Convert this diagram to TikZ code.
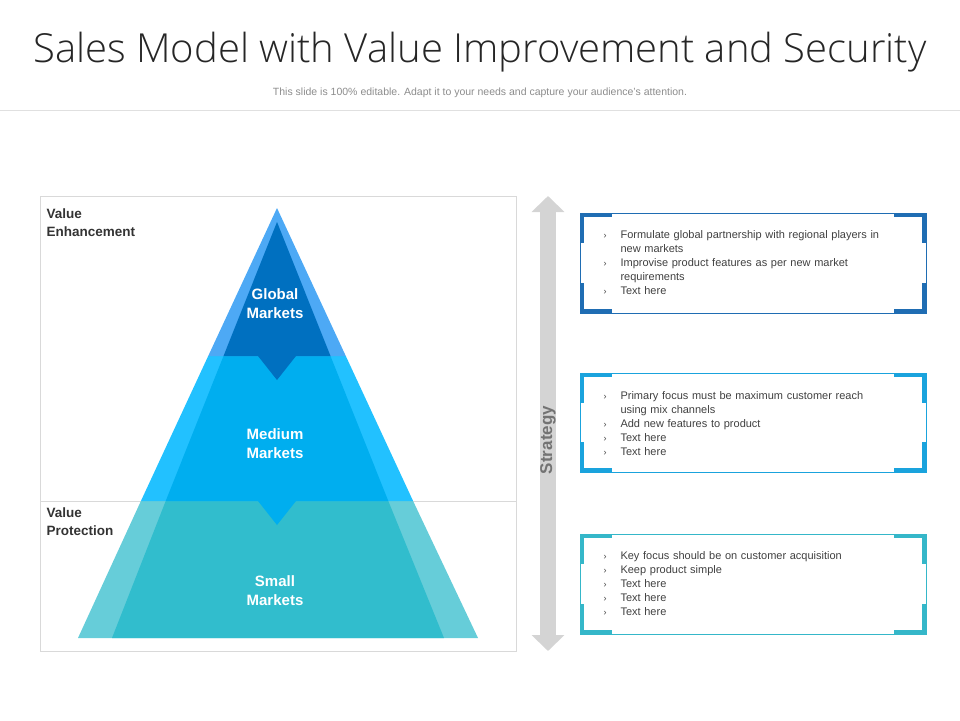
\documentclass[tikz,border=0pt]{standalone}
\usepackage{fontspec}
\setmainfont{Liberation Sans}
\newfontfamily\titlefont{Open Sans Light}
\usetikzlibrary{arrows.meta}
\definecolor{topIn}{HTML}{0070C0}
\definecolor{topOut}{HTML}{4DA9F5}
\definecolor{midIn}{HTML}{00AEEF}
\definecolor{midOut}{HTML}{22C1FF}
\definecolor{lowIn}{HTML}{31BDCD}
\definecolor{lowOut}{HTML}{66CDD9}
\definecolor{boxA}{HTML}{1F6DB3}
\definecolor{boxB}{HTML}{1AA3DD}
\definecolor{boxC}{HTML}{35B7C9}
\newcommand{\bul}{\makebox[17pt][l]{\small ›}}
\begin{document}
\begin{tikzpicture}[x=1pt, y=-1pt,
  pts/.style={anchor=west, align=left, text width=300pt, font=\fontsize{11}{14}\selectfont, text=black!75},
  mkt/.style={text=white, font=\bfseries\fontsize{15}{19}\selectfont, align=center},
  side/.style={anchor=north west, align=left, font=\bfseries\fontsize{13.5}{18}\selectfont, text=black!80}]
  \useasboundingbox (0,0) rectangle (960,720);
  % title
  \node (title) at (480,52) {\titlefont\fontsize{40}{44}\selectfont\color{black!85}Sales Model with Value Improvement and Security};
  \node (sub) at (480,93) {\fontsize{10.5}{12}\selectfont\color{black!45}This slide is 100\% editable. Adapt it to your needs and capture your audience's attention.};
  \draw [black!12] (0,110) -- (960,110);
  % frame
  \draw [black!15] (40,196) rectangle (516,651);
  \draw [black!15] (40,501) -- (516,501);
  \node (enh) [side] at (43,205) {Value\\Enhancement};
  \node (prot) [side] at (43,504) {Value\\Protection};
  % pyramid
  \fill [lowOut] (78,638) -- (140.9,501) -- (413.1,501) -- (478,638) -- cycle;
  \fill [lowIn] (112,638) -- (165.7,501) -- (388.3,501) -- (444,638) -- cycle;
  \fill [midOut] (140.9,501) -- (208.2,356) -- (345.8,356) -- (413.1,501) -- cycle;
  \fill [midIn] (165.7,501) -- (223.5,356) -- (330.5,356) -- (388.3,501) -- cycle;
  \fill [midIn] (258,501) -- (277,525) -- (296,501) -- cycle;
  \fill [topOut] (208.2,356) -- (277,208) -- (345.8,356) -- cycle;
  \fill [topIn] (223.5,356) -- (277,222) -- (330.5,356) -- cycle;
  \fill [topIn] (258,356) -- (277,380) -- (296,356) -- cycle;
  \node (glob) [mkt] at (275,304) {Global\\Markets};
  \node (med) [mkt] at (275,444) {Medium\\Markets};
  \node (small) [mkt] at (275,591) {Small\\Markets};
  % strategy arrow
  \coordinate (up) at (548,196);
  \coordinate (dn) at (548,651);
  \draw [black!17, line width=16pt, {Triangle[width=32pt,length=16pt]}-{Triangle[width=32pt,length=16pt]}] (up) -- (dn);
  \node (strat) [rotate=90, text=black!55, font=\bfseries\fontsize{17}{18}\selectfont] at (548,440) {Strategy};
  % boxes
  \draw [boxA, line width=0.8pt] (580,213) rectangle (926,313);
  \draw [boxA, line width=3.5pt] (582,243) -- (582,215) -- (612,215) (894,215) -- (924,215) -- (924,243)
        (582,283) -- (582,311) -- (612,311) (894,311) -- (924,311) -- (924,283);
  \node (ptsA) [pts] at (600,263) {\bul Formulate global partnership with regional players in\\\hspace*{17pt}new markets\\\bul Improvise product features as per new market\\\hspace*{17pt}requirements\\\bul Text here};
  \draw [boxB, line width=0.8pt] (580,373) rectangle (926,472);
  \draw [boxB, line width=3.5pt] (582,403) -- (582,375) -- (612,375) (894,375) -- (924,375) -- (924,403)
        (582,442) -- (582,470) -- (612,470) (894,470) -- (924,470) -- (924,442);
  \node (ptsB) [pts] at (600,424) {\bul Primary focus must be maximum customer reach\\\hspace*{17pt}using mix channels\\\bul Add new features to product\\\bul Text here\\\bul Text here};
  \draw [boxC, line width=0.8pt] (580,534) rectangle (926,634);
  \draw [boxC, line width=3.5pt] (582,564) -- (582,536) -- (612,536) (894,536) -- (924,536) -- (924,564)
        (582,604) -- (582,632) -- (612,632) (894,632) -- (924,632) -- (924,604);
  \node (ptsC) [pts] at (600,584) {\bul Key focus should be on customer acquisition\\\bul Keep product simple\\\bul Text here\\\bul Text here\\\bul Text here};
\end{tikzpicture}
\end{document}
